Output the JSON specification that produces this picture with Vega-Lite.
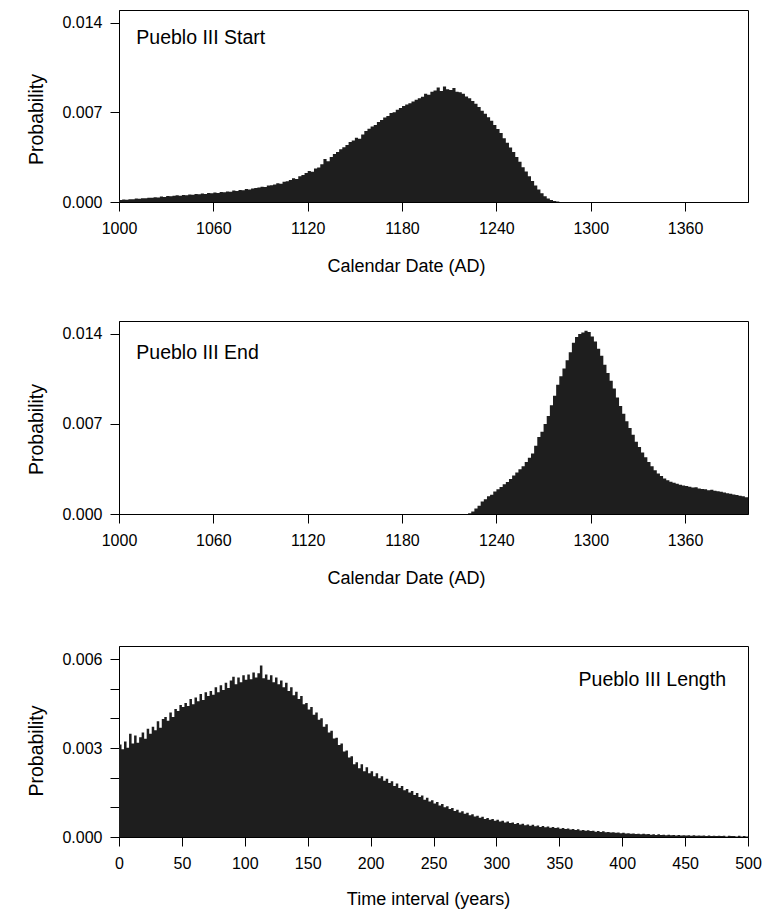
{
"$schema": "https://vega.github.io/schema/vega-lite/v6.json",
"padding": {"left": 25, "top": 9, "right": 10, "bottom": 5},
"background": "white",
"config": {
 "font": "Liberation Sans",
 "view": {"stroke": "black", "strokeWidth": 1},
 "axis": {"grid": false, "domainColor": "black", "tickColor": "black", "labelColor": "black", "titleColor": "black", "labelFont": "Liberation Sans", "titleFont": "Liberation Sans", "labelFontSize": 16, "titleFontWeight": "normal", "tickSize": 9, "labelFlush": false, "labelOverlap": false},
 "axisY": {"titlePadding": 15.5, "titleFontSize": 19.5, "labelPadding": 8},
 "axisX": {"titleFontSize": 18, "labelPadding": 9}
},
"datasets": {
 "start": [
{"x":1000,"p":0.00016},{"x":1002,"p":0.00019},{"x":1004,"p":0.00018},{"x":1006,"p":0.00022},{"x":1008,"p":0.00021},{"x":1010,"p":0.00027},{"x":1012,"p":0.00025},{"x":1014,"p":0.00030},{"x":1016,"p":0.00029},{"x":1018,"p":0.00034},
{"x":1020,"p":0.00033},{"x":1022,"p":0.00038},{"x":1024,"p":0.00036},{"x":1026,"p":0.00042},{"x":1028,"p":0.00040},{"x":1030,"p":0.00046},{"x":1032,"p":0.00044},{"x":1034,"p":0.00049},{"x":1036,"p":0.00052},{"x":1038,"p":0.00048},
{"x":1040,"p":0.00055},{"x":1042,"p":0.00053},{"x":1044,"p":0.00058},{"x":1046,"p":0.00056},{"x":1048,"p":0.00062},{"x":1050,"p":0.00060},{"x":1052,"p":0.00066},{"x":1054,"p":0.00063},{"x":1056,"p":0.00070},{"x":1058,"p":0.00068},
{"x":1060,"p":0.00074},{"x":1062,"p":0.00071},{"x":1064,"p":0.00079},{"x":1066,"p":0.00076},{"x":1068,"p":0.00083},{"x":1070,"p":0.00081},{"x":1072,"p":0.00089},{"x":1074,"p":0.00086},{"x":1076,"p":0.00094},{"x":1078,"p":0.00092},
{"x":1080,"p":0.00101},{"x":1082,"p":0.00097},{"x":1084,"p":0.00106},{"x":1086,"p":0.00110},{"x":1088,"p":0.00113},{"x":1090,"p":0.00120},{"x":1092,"p":0.00117},{"x":1094,"p":0.00128},{"x":1096,"p":0.00131},{"x":1098,"p":0.00137},
{"x":1100,"p":0.00146},{"x":1102,"p":0.00142},{"x":1104,"p":0.00158},{"x":1106,"p":0.00162},{"x":1108,"p":0.00171},{"x":1110,"p":0.00186},{"x":1112,"p":0.00180},{"x":1114,"p":0.00201},{"x":1116,"p":0.00210},{"x":1118,"p":0.00226},
{"x":1120,"p":0.00242},{"x":1122,"p":0.00236},{"x":1124,"p":0.00262},{"x":1126,"p":0.00270},{"x":1128,"p":0.00295},{"x":1130,"p":0.00335},{"x":1132,"p":0.00318},{"x":1134,"p":0.00352},{"x":1136,"p":0.00375},{"x":1138,"p":0.00390},
{"x":1140,"p":0.00412},{"x":1142,"p":0.00428},{"x":1144,"p":0.00445},{"x":1146,"p":0.00468},{"x":1148,"p":0.00481},{"x":1150,"p":0.00502},{"x":1152,"p":0.00495},{"x":1154,"p":0.00528},{"x":1156,"p":0.00555},{"x":1158,"p":0.00572},
{"x":1160,"p":0.00590},{"x":1162,"p":0.00601},{"x":1164,"p":0.00625},{"x":1166,"p":0.00641},{"x":1168,"p":0.00660},{"x":1170,"p":0.00672},{"x":1172,"p":0.00695},{"x":1174,"p":0.00702},{"x":1176,"p":0.00721},{"x":1178,"p":0.00735},
{"x":1180,"p":0.00750},{"x":1182,"p":0.00762},{"x":1184,"p":0.00771},{"x":1186,"p":0.00785},{"x":1188,"p":0.00798},{"x":1190,"p":0.00810},{"x":1192,"p":0.00822},{"x":1194,"p":0.00845},{"x":1196,"p":0.00838},{"x":1198,"p":0.00862},
{"x":1200,"p":0.00871},{"x":1202,"p":0.00895},{"x":1204,"p":0.00868},{"x":1206,"p":0.00902},{"x":1208,"p":0.00880},{"x":1210,"p":0.00875},{"x":1212,"p":0.00891},{"x":1214,"p":0.00862},{"x":1216,"p":0.00858},{"x":1218,"p":0.00845},
{"x":1220,"p":0.00825},{"x":1222,"p":0.00810},{"x":1224,"p":0.00790},{"x":1226,"p":0.00768},{"x":1228,"p":0.00742},{"x":1230,"p":0.00712},{"x":1232,"p":0.00690},{"x":1234,"p":0.00662},{"x":1236,"p":0.00635},{"x":1238,"p":0.00602},
{"x":1240,"p":0.00571},{"x":1242,"p":0.00540},{"x":1244,"p":0.00498},{"x":1246,"p":0.00462},{"x":1248,"p":0.00425},{"x":1250,"p":0.00390},{"x":1252,"p":0.00352},{"x":1254,"p":0.00315},{"x":1256,"p":0.00272},{"x":1258,"p":0.00238},
{"x":1260,"p":0.00201},{"x":1262,"p":0.00165},{"x":1264,"p":0.00128},{"x":1266,"p":0.00098},{"x":1268,"p":0.00068},{"x":1270,"p":0.00045},{"x":1272,"p":0.00028},{"x":1274,"p":0.00015},{"x":1276,"p":0.00008},{"x":1278,"p":0.00003},
{"x":1280,"p":0}
 ],
 "end": [
{"x":1220,"p":0},{"x":1222,"p":0.00005},{"x":1224,"p":0.00020},{"x":1226,"p":0.00042},{"x":1228,"p":0.00065},{"x":1230,"p":0.00098},{"x":1232,"p":0.00115},{"x":1234,"p":0.00138},{"x":1236,"p":0.00150},{"x":1238,"p":0.00175},
{"x":1240,"p":0.00192},{"x":1242,"p":0.00210},{"x":1244,"p":0.00232},{"x":1246,"p":0.00248},{"x":1248,"p":0.00272},{"x":1250,"p":0.00300},{"x":1252,"p":0.00322},{"x":1254,"p":0.00348},{"x":1256,"p":0.00372},{"x":1258,"p":0.00405},
{"x":1260,"p":0.00438},{"x":1262,"p":0.00470},{"x":1264,"p":0.00530},{"x":1266,"p":0.00598},{"x":1268,"p":0.00640},{"x":1270,"p":0.00700},{"x":1272,"p":0.00762},{"x":1274,"p":0.00845},{"x":1276,"p":0.00920},{"x":1278,"p":0.01005},
{"x":1280,"p":0.01070},{"x":1282,"p":0.01130},{"x":1284,"p":0.01195},{"x":1286,"p":0.01258},{"x":1288,"p":0.01330},{"x":1290,"p":0.01375},{"x":1292,"p":0.01398},{"x":1294,"p":0.01410},{"x":1296,"p":0.01425},{"x":1298,"p":0.01415},
{"x":1300,"p":0.01380},{"x":1302,"p":0.01340},{"x":1304,"p":0.01285},{"x":1306,"p":0.01230},{"x":1308,"p":0.01160},{"x":1310,"p":0.01095},{"x":1312,"p":0.01035},{"x":1314,"p":0.00975},{"x":1316,"p":0.00905},{"x":1318,"p":0.00840},
{"x":1320,"p":0.00780},{"x":1322,"p":0.00720},{"x":1324,"p":0.00668},{"x":1326,"p":0.00615},{"x":1328,"p":0.00562},{"x":1330,"p":0.00520},{"x":1332,"p":0.00478},{"x":1334,"p":0.00442},{"x":1336,"p":0.00405},{"x":1338,"p":0.00372},
{"x":1340,"p":0.00340},{"x":1342,"p":0.00315},{"x":1344,"p":0.00295},{"x":1346,"p":0.00275},{"x":1348,"p":0.00262},{"x":1350,"p":0.00250},{"x":1352,"p":0.00242},{"x":1354,"p":0.00235},{"x":1356,"p":0.00228},{"x":1358,"p":0.00222},
{"x":1360,"p":0.00218},{"x":1362,"p":0.00212},{"x":1364,"p":0.00205},{"x":1366,"p":0.00208},{"x":1368,"p":0.00198},{"x":1370,"p":0.00195},{"x":1372,"p":0.00192},{"x":1374,"p":0.00185},{"x":1376,"p":0.00188},{"x":1378,"p":0.00180},
{"x":1380,"p":0.00176},{"x":1382,"p":0.00172},{"x":1384,"p":0.00168},{"x":1386,"p":0.00162},{"x":1388,"p":0.00158},{"x":1390,"p":0.00152},{"x":1392,"p":0.00148},{"x":1394,"p":0.00142},{"x":1396,"p":0.00138},{"x":1398,"p":0.00130},
{"x":1400,"p":0.00128}
 ],
 "len": [
{"x":0,"p":0.00312},{"x":2,"p":0.00296},{"x":4,"p":0.00322},{"x":6,"p":0.00301},{"x":8,"p":0.00348},{"x":10,"p":0.00315},{"x":12,"p":0.00342},{"x":14,"p":0.00318},{"x":16,"p":0.00336},{"x":18,"p":0.00352},
{"x":20,"p":0.00331},{"x":22,"p":0.00365},{"x":24,"p":0.00348},{"x":26,"p":0.00372},{"x":28,"p":0.00360},{"x":30,"p":0.00390},{"x":32,"p":0.00368},{"x":34,"p":0.00398},{"x":36,"p":0.00405},{"x":38,"p":0.00392},
{"x":40,"p":0.00420},{"x":42,"p":0.00405},{"x":44,"p":0.00432},{"x":46,"p":0.00425},{"x":48,"p":0.00445},{"x":50,"p":0.00438},{"x":52,"p":0.00452},{"x":54,"p":0.00442},{"x":56,"p":0.00465},{"x":58,"p":0.00448},
{"x":60,"p":0.00470},{"x":62,"p":0.00458},{"x":64,"p":0.00482},{"x":66,"p":0.00462},{"x":68,"p":0.00488},{"x":70,"p":0.00475},{"x":72,"p":0.00492},{"x":74,"p":0.00480},{"x":76,"p":0.00505},{"x":78,"p":0.00488},
{"x":80,"p":0.00512},{"x":82,"p":0.00496},{"x":84,"p":0.00520},{"x":86,"p":0.00502},{"x":88,"p":0.00528},{"x":90,"p":0.00540},{"x":92,"p":0.00515},{"x":94,"p":0.00538},{"x":96,"p":0.00522},{"x":98,"p":0.00545},
{"x":100,"p":0.00530},{"x":102,"p":0.00548},{"x":104,"p":0.00532},{"x":106,"p":0.00555},{"x":108,"p":0.00538},{"x":110,"p":0.00552},{"x":112,"p":0.00578},{"x":114,"p":0.00535},{"x":116,"p":0.00548},{"x":118,"p":0.00530},
{"x":120,"p":0.00545},{"x":122,"p":0.00522},{"x":124,"p":0.00538},{"x":126,"p":0.00515},{"x":128,"p":0.00528},{"x":130,"p":0.00505},{"x":132,"p":0.00520},{"x":134,"p":0.00492},{"x":136,"p":0.00505},{"x":138,"p":0.00478},
{"x":140,"p":0.00490},{"x":142,"p":0.00465},{"x":144,"p":0.00475},{"x":146,"p":0.00448},{"x":148,"p":0.00452},{"x":150,"p":0.00430},{"x":152,"p":0.00438},{"x":154,"p":0.00412},{"x":156,"p":0.00420},{"x":158,"p":0.00395},
{"x":160,"p":0.00400},{"x":162,"p":0.00372},{"x":164,"p":0.00380},{"x":166,"p":0.00352},{"x":168,"p":0.00358},{"x":170,"p":0.00332},{"x":172,"p":0.00335},{"x":174,"p":0.00310},{"x":176,"p":0.00315},{"x":178,"p":0.00288},
{"x":180,"p":0.00292},{"x":182,"p":0.00268},{"x":184,"p":0.00272},{"x":186,"p":0.00245},{"x":188,"p":0.00252},{"x":190,"p":0.00232},{"x":192,"p":0.00245},{"x":194,"p":0.00222},{"x":196,"p":0.00235},{"x":198,"p":0.00215},
{"x":200,"p":0.00222},{"x":202,"p":0.00205},{"x":204,"p":0.00215},{"x":206,"p":0.00198},{"x":208,"p":0.00205},{"x":210,"p":0.00190},{"x":212,"p":0.00196},{"x":214,"p":0.00182},{"x":216,"p":0.00188},{"x":218,"p":0.00172},
{"x":220,"p":0.00180},{"x":222,"p":0.00165},{"x":224,"p":0.00172},{"x":226,"p":0.00158},{"x":228,"p":0.00162},{"x":230,"p":0.00150},{"x":232,"p":0.00155},{"x":234,"p":0.00142},{"x":236,"p":0.00148},{"x":238,"p":0.00135},
{"x":240,"p":0.00140},{"x":242,"p":0.00126},{"x":244,"p":0.00132},{"x":246,"p":0.00120},{"x":248,"p":0.00124},{"x":250,"p":0.00113},{"x":252,"p":0.00118},{"x":254,"p":0.00106},{"x":256,"p":0.00111},{"x":258,"p":0.00100},
{"x":260,"p":0.00104},{"x":262,"p":0.00094},{"x":264,"p":0.00098},{"x":266,"p":0.00088},{"x":268,"p":0.00092},{"x":270,"p":0.00083},{"x":272,"p":0.00087},{"x":274,"p":0.00078},{"x":276,"p":0.00082},{"x":278,"p":0.00073},
{"x":280,"p":0.00077},{"x":282,"p":0.00069},{"x":284,"p":0.00072},{"x":286,"p":0.00065},{"x":288,"p":0.00068},{"x":290,"p":0.00061},{"x":292,"p":0.00064},{"x":294,"p":0.00058},{"x":296,"p":0.00061},{"x":298,"p":0.00055},
{"x":300,"p":0.00058},{"x":302,"p":0.00052},{"x":304,"p":0.00055},{"x":306,"p":0.00049},{"x":308,"p":0.00052},{"x":310,"p":0.00047},{"x":312,"p":0.00049},{"x":314,"p":0.00044},{"x":316,"p":0.00047},{"x":318,"p":0.00042},
{"x":320,"p":0.00045},{"x":322,"p":0.00040},{"x":324,"p":0.00042},{"x":326,"p":0.00038},{"x":328,"p":0.00041},{"x":330,"p":0.00036},{"x":332,"p":0.00039},{"x":334,"p":0.00034},{"x":336,"p":0.00037},{"x":338,"p":0.00033},
{"x":340,"p":0.00035},{"x":342,"p":0.00031},{"x":344,"p":0.00034},{"x":346,"p":0.00030},{"x":348,"p":0.00032},{"x":350,"p":0.00028},{"x":352,"p":0.00030},{"x":354,"p":0.00027},{"x":356,"p":0.00029},{"x":358,"p":0.00025},
{"x":360,"p":0.00027},{"x":362,"p":0.00024},{"x":364,"p":0.00026},{"x":366,"p":0.00022},{"x":368,"p":0.00024},{"x":370,"p":0.00021},{"x":372,"p":0.00023},{"x":374,"p":0.00020},{"x":376,"p":0.00021},{"x":378,"p":0.00018},
{"x":380,"p":0.00020},{"x":382,"p":0.00017},{"x":384,"p":0.00019},{"x":386,"p":0.00016},{"x":388,"p":0.00017},{"x":390,"p":0.00015},{"x":392,"p":0.00016},{"x":394,"p":0.00014},{"x":396,"p":0.00015},{"x":398,"p":0.00013},
{"x":400,"p":0.00014},{"x":402,"p":0.00012},{"x":404,"p":0.00013},{"x":406,"p":0.00011},{"x":408,"p":0.00012},{"x":410,"p":0.00010},{"x":412,"p":0.00011},{"x":414,"p":0.00009},{"x":416,"p":0.00011},{"x":418,"p":0.00009},
{"x":420,"p":0.00010},{"x":422,"p":0.00008},{"x":424,"p":0.00009},{"x":426,"p":0.00007},{"x":428,"p":0.00009},{"x":430,"p":0.00007},{"x":432,"p":0.00008},{"x":434,"p":0.00006},{"x":436,"p":0.00008},{"x":438,"p":0.00006},
{"x":440,"p":0.00007},{"x":442,"p":0.00005},{"x":444,"p":0.00007},{"x":446,"p":0.00005},{"x":448,"p":0.00006},{"x":450,"p":0.00005},{"x":452,"p":0.00006},{"x":454,"p":0.00004},{"x":456,"p":0.00006},{"x":458,"p":0.00004},
{"x":460,"p":0.00005},{"x":462,"p":0.00004},{"x":464,"p":0.00005},{"x":466,"p":0.00003},{"x":468,"p":0.00005},{"x":470,"p":0.00003},{"x":472,"p":0.00004},{"x":474,"p":0.00003},{"x":476,"p":0.00004},{"x":478,"p":0.00003},
{"x":480,"p":0.00004},{"x":482,"p":0.00002},{"x":484,"p":0.00004},{"x":486,"p":0.00003},{"x":488,"p":0.00003},{"x":490,"p":0.00002},{"x":492,"p":0.00004},{"x":494,"p":0.00002},{"x":496,"p":0.00003},{"x":498,"p":0.00002},
{"x":500,"p":0.00002}
 ]
},
"spacing": 57,
"vconcat": [
 {
  "spacing": 44,
  "vconcat": [
   {
    "width": 629, "height": 192,
    "layer": [
     {"data": {"name": "start"},
      "mark": {"type": "area", "interpolate": "step-after", "color": "#1e1e1e", "clip": true},
      "encoding": {
       "x": {"field": "x", "type": "quantitative", "scale": {"domain": [1000, 1400], "nice": false, "zero": false}, "axis": {"values": [1000, 1060, 1120, 1180, 1240, 1300, 1360], "tickCount": 20, "format": "d", "title": "Calendar Date (AD)", "titlePadding": 21, "titleX": 287}},
       "y": {"field": "p", "type": "quantitative", "scale": {"domain": [0, 0.015], "nice": false}, "axis": {"values": [0, 0.007, 0.014], "tickCount": 10, "format": ".3f", "title": "Probability", "titleY": 109}}
      }},
     {"data": {"values": [{}]},
      "mark": {"type": "text", "text": "Pueblo III Start", "align": "left", "baseline": "alphabetic", "fontSize": 19.5, "font": "Liberation Sans", "color": "black"},
      "encoding": {"x": {"datum": 1011}, "y": {"datum": 0.01237}}}
    ]
   },
   {
    "width": 629, "height": 193,
    "layer": [
     {"data": {"name": "end"},
      "mark": {"type": "area", "interpolate": "step-after", "color": "#1e1e1e", "clip": true},
      "encoding": {
       "x": {"field": "x", "type": "quantitative", "scale": {"domain": [1000, 1400], "nice": false, "zero": false}, "axis": {"values": [1000, 1060, 1120, 1180, 1240, 1300, 1360], "tickCount": 20, "format": "d", "title": "Calendar Date (AD)", "titlePadding": 21, "titleX": 287}},
       "y": {"field": "p", "type": "quantitative", "scale": {"domain": [0, 0.015], "nice": false}, "axis": {"values": [0, 0.007, 0.014], "tickCount": 10, "format": ".3f", "title": "Probability", "titleY": 108}}
      }},
     {"data": {"values": [{}]},
      "mark": {"type": "text", "text": "Pueblo III End", "align": "left", "baseline": "alphabetic", "fontSize": 19.5, "font": "Liberation Sans", "color": "black"},
      "encoding": {"x": {"datum": 1011}, "y": {"datum": 0.01207}}}
    ]
   }
  ]
 },
 {
  "width": 629, "height": 191,
  "layer": [
   {"data": {"name": "len"},
    "mark": {"type": "area", "interpolate": "step-after", "color": "#1e1e1e", "clip": true},
    "encoding": {
     "x": {"field": "x", "type": "quantitative", "scale": {"domain": [0, 500], "nice": false, "zero": false}, "axis": {"values": [0, 50, 100, 150, 200, 250, 300, 350, 400, 450, 500], "tickCount": 20, "format": "d", "title": "Time interval (years)", "titlePadding": 19, "titleX": 309}},
     "y": {"field": "p", "type": "quantitative", "scale": {"domain": [0, 0.00644], "nice": false}, "axis": {"values": [0, 0.001, 0.002, 0.003, 0.004, 0.005, 0.006], "tickCount": 10, "labelOverlap": false, "labelExpr": "abs(datum.value * 1000 - 3 * round(datum.value * 1000 / 3)) < 0.01 ? format(datum.value, '.3f') : ''", "title": "Probability", "titleY": 104.5}}
    }},
   {"data": {"values": [{}]},
    "mark": {"type": "text", "text": "Pueblo III Length", "align": "right", "baseline": "alphabetic", "fontSize": 19.5, "font": "Liberation Sans", "color": "black"},
    "encoding": {"x": {"datum": 482.5}, "y": {"datum": 0.0051}}}
  ]
 }
]
}
